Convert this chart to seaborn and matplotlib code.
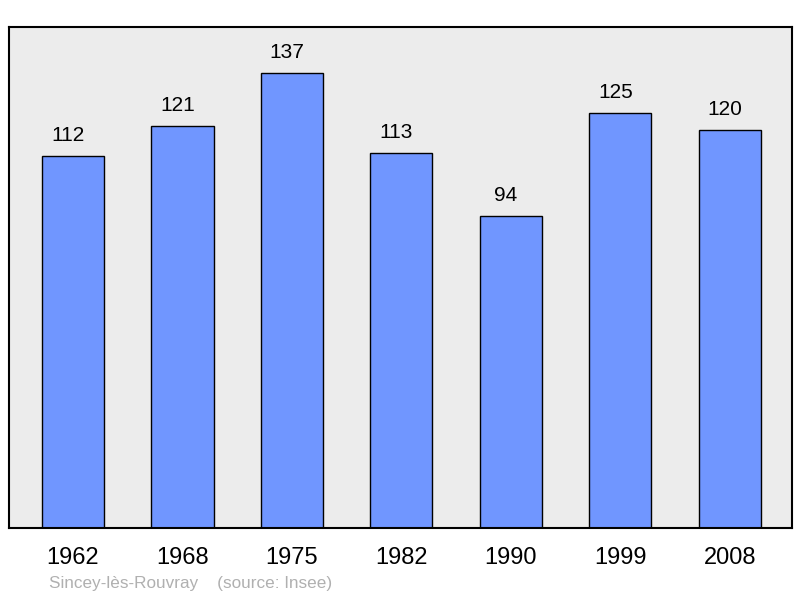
import matplotlib
matplotlib.use('Agg')
import matplotlib.pyplot as plt
import pandas as pd
import seaborn as sns

years = ['1962', '1968', '1975', '1982', '1990', '1999', '2008']
population = [112, 121, 137, 113, 94, 125, 120]

BAR_COLOR = '#7096ff'
BG_COLOR = '#ececec'

sns.set_style('white')
plt.rcParams['font.family'] = ['Liberation Sans', 'DejaVu Sans']

df = pd.DataFrame({'year': years, 'population': population})

fig = plt.figure(figsize=(8, 5.98), dpi=100)
ax = fig.add_axes([0.0113, 0.117, 0.9787, 0.838])
ax.set_facecolor(BG_COLOR)

sns.barplot(data=df, x='year', y='population', color=BAR_COLOR,
            saturation=1, width=0.567, edgecolor='black', linewidth=1.0, ax=ax)

for cont in ax.containers:
    labels = ax.bar_label(cont, padding=8, fontsize=15, color='black')
    for t in labels:
        t.xyann = (-3.5, 8)  # labels sit a bit left of bar centre

ax.set_xlim(-0.585, 6.57)
ax.set_ylim(0, 151)
ax.set_xlabel('')
ax.set_ylabel('')
ax.set_yticks([])
ax.tick_params(axis='x', length=0, pad=13.5, labelsize=17, labelcolor='black')
for s in ax.spines.values():
    s.set_visible(True)
    s.set_color('black')
    s.set_linewidth(1.5)

fig.text(0.061, 0.012, 'Sincey-lès-Rouvray    (source: Insee)',
         fontsize=12.3, color='#b0b0b0', ha='left', va='bottom')

plt.savefig('out.png', dpi=100)
plt.close()
